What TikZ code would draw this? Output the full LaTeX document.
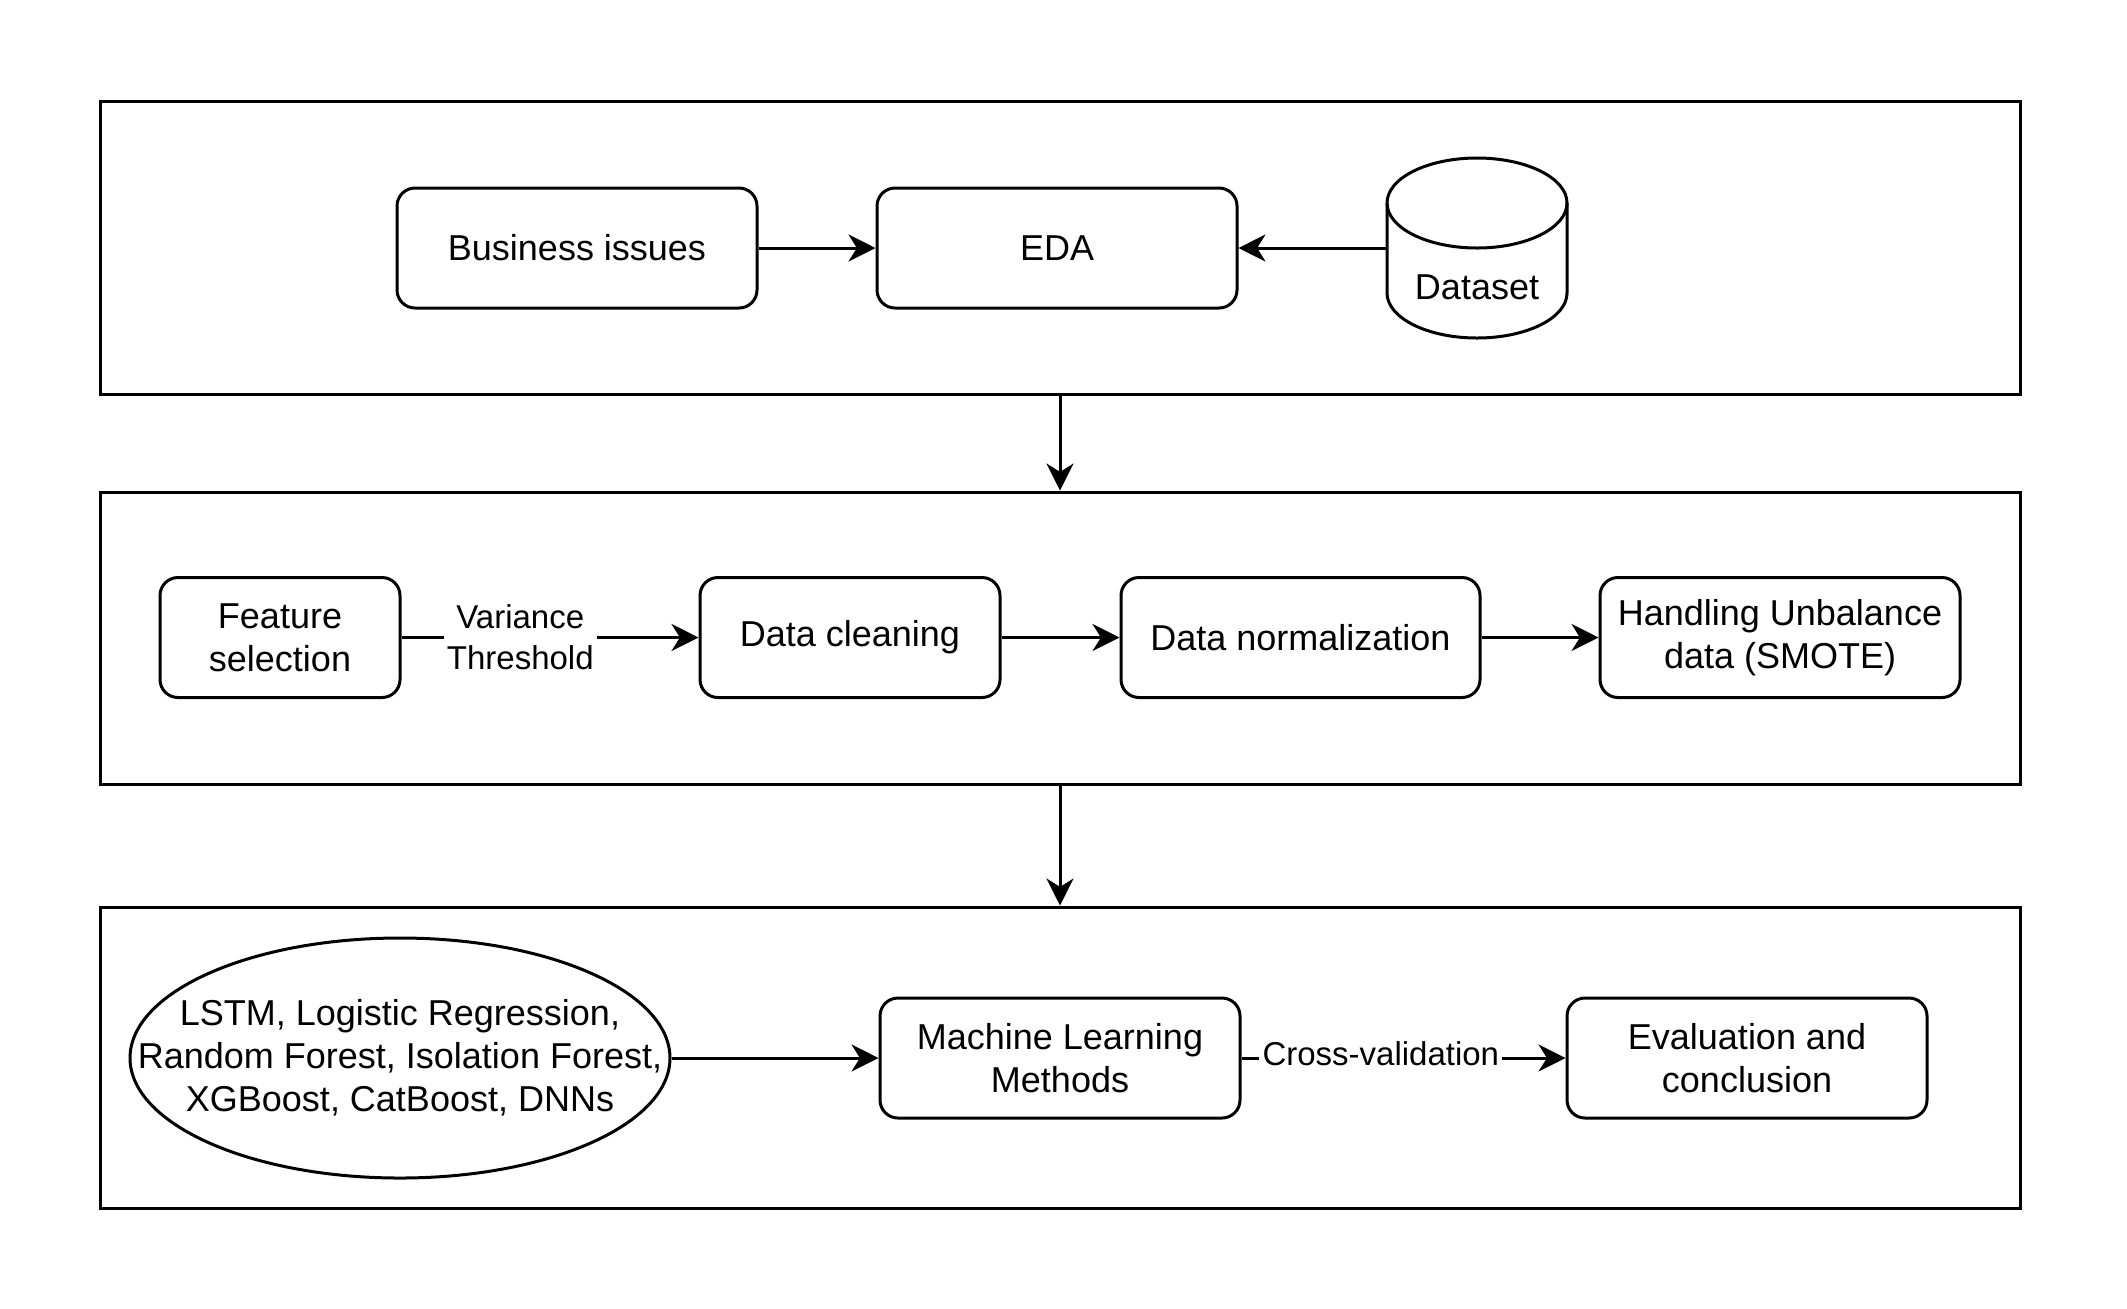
\documentclass[tikz,border=0pt]{standalone}
\usepackage{fontspec}
\setmainfont{Liberation Sans}
\usetikzlibrary{arrows.meta,shapes.geometric}
\newcommand{\figfont}{\fontsize{9}{10.8}\selectfont}
\newcommand{\figlabfont}{\fontsize{8.25}{10.3}\selectfont}
\begin{document}
\begin{tikzpicture}[x=0.25pt,y=-0.25pt,
  lw/.style={line width=0.75pt},
  frame/.style={draw,lw,rectangle,minimum width=480pt,inner sep=0pt},
  rbox/.style={draw,lw,rectangle,rounded corners=4.5pt,minimum height=30pt,inner sep=0pt,align=center,font=\figfont},
  txt/.style={inner sep=0pt,align=center,font=\figfont},
  arr/.style={lw,-{Stealth[length=6.75pt,width=6.75pt,inset=2.1pt]}},
  lab/.style={fill=white,inner sep=0.8pt,align=center,font=\figlabfont},
]
\useasboundingbox (0,0) rectangle (2127,1308);

% frames
\node[frame,minimum height=73.25pt] (box1) at (1060,247.5) {};
\node[frame,minimum height=73pt] (box2) at (1060,638) {};
\node[frame,minimum height=75.25pt] (box3) at (1060,1057.5) {};

% row 1
\node[rbox,minimum width=90pt] (bi) at (577,248) {Business issues};
\node[rbox,minimum width=90pt] (eda) at (1057,248) {EDA};
\node[inner sep=0pt,minimum width=45pt,minimum height=45pt] (ds) at (1477,248) {};
\draw[lw,fill=white] (1387,203) -- (1387,293)
  arc[start angle=180,end angle=360,x radius=22.5pt,y radius=11.25pt] -- (1567,203);
\draw[lw] (1477,203) ellipse [x radius=22.5pt,y radius=11.25pt];
\node[txt] (dstext) at (1477,287) {Dataset};

% row 2
\node[rbox,minimum width=60pt] (fs) at (280,637.5) {Feature\\selection};
\node[rbox,minimum width=75pt] (dc) at (850,637.5) {Data cleaning};
\node[rbox,minimum width=89.75pt] (dn) at (1300.5,637.5) {Data normalization};
\node[rbox,minimum width=90pt] (hu) at (1780,637.5) {Handling Unbalance\\data (SMOTE)};

% row 3
\node[draw,lw,ellipse,inner sep=0pt,minimum width=135pt,minimum height=60pt] (models) at (400,1058) {};
\node[txt] (modelstext) at (400,1058) {LSTM, Logistic Regression,\\Random Forest, Isolation Forest,\\XGBoost, CatBoost, DNNs};
\node[rbox,minimum width=90pt] (ml) at (1060,1058) {Machine Learning\\Methods};
\node[rbox,minimum width=90pt] (ev) at (1747,1058) {Evaluation and\\conclusion};

% connectors
\draw[arr] (bi) -- (eda);
\draw[arr] (ds.west) -- (eda);
\draw[arr] (box1.south) -- (box2.north);
\draw[arr] (box2.south) -- (box3.north);
\draw[arr] (fs) -- node[lab,pos=0.4] {Variance\\Threshold} (dc);
\draw[arr] (dc) -- (dn);
\draw[arr] (dn) -- (hu);
\draw[arr] (models) -- (ml);
\draw[arr] (ml) -- node[lab,pos=0.43,yshift=1pt] {Cross-validation} (ev);
\end{tikzpicture}
\end{document}
